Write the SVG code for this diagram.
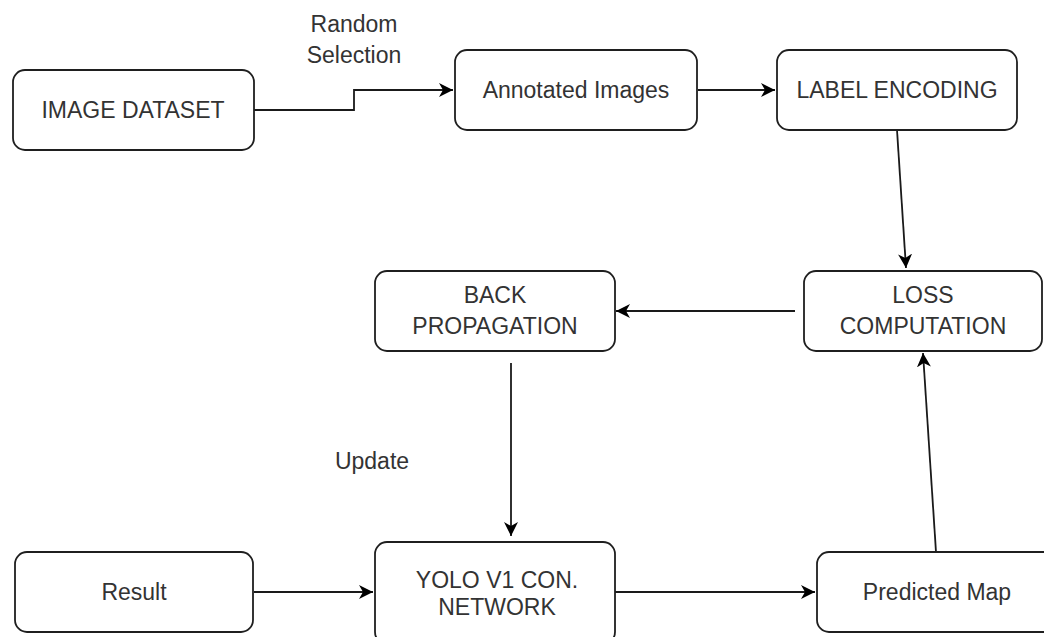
<svg xmlns="http://www.w3.org/2000/svg" width="1044" height="637" viewBox="0 0 1044 637">
  <style>
    .box { fill: #ffffff; stroke: #1f1f1f; stroke-width: 1.8; }
    .lbl { font-family: "Liberation Sans", Arial, sans-serif; font-size: 23px; fill: #333333; text-anchor: middle; }
    .edge { fill: none; stroke: #1a1a1a; stroke-width: 1.8; marker-end: url(#arrow); }
  </style>
  <defs>
    <marker id="arrow" markerUnits="userSpaceOnUse" markerWidth="16" markerHeight="14" refX="14" refY="7" orient="auto">
      <path d="M0,0 L14,7 L0,14 L4,7 Z" fill="#000000"/>
    </marker>
  </defs>
  <rect width="1044" height="637" fill="#ffffff"/>

  <!-- connectors -->
  <g id="connectors">
    <polyline class="edge" points="254,110 354,110 354,90 453,90"/>
    <line class="edge" x1="698" y1="90" x2="775" y2="90"/>
    <line class="edge" x1="897" y1="130" x2="906" y2="268"/>
    <line class="edge" x1="795" y1="311" x2="616" y2="311"/>
    <line class="edge" x1="511" y1="363" x2="511" y2="536"/>
    <line class="edge" x1="254" y1="592" x2="373" y2="592"/>
    <line class="edge" x1="615" y1="592" x2="815" y2="592"/>
    <line class="edge" x1="936" y1="552" x2="923" y2="353"/>
    <text class="lbl" x="354" y="32">Random</text>
    <text class="lbl" x="354" y="63">Selection</text>
    <text class="lbl" x="372" y="469">Update</text>
  </g>

  <g id="image-dataset">
    <rect class="box" x="13" y="70" width="241" height="80" rx="12"/>
    <text class="lbl" x="133" y="118">IMAGE DATASET</text>
  </g>

  <g id="annotated-images">
    <rect class="box" x="455" y="50" width="242" height="80" rx="12"/>
    <text class="lbl" x="576" y="98">Annotated Images</text>
  </g>

  <g id="label-encoding">
    <rect class="box" x="777" y="50" width="240" height="80" rx="12"/>
    <text class="lbl" x="897" y="98">LABEL ENCODING</text>
  </g>

  <g id="loss-computation">
    <rect class="box" x="804" y="271" width="238" height="80" rx="12"/>
    <text class="lbl" x="923" y="303">LOSS</text>
    <text class="lbl" x="923" y="334">COMPUTATION</text>
  </g>

  <g id="back-propagation">
    <rect class="box" x="375" y="271" width="240" height="80" rx="12"/>
    <text class="lbl" x="495" y="303">BACK</text>
    <text class="lbl" x="495" y="334">PROPAGATION</text>
  </g>

  <g id="result">
    <rect class="box" x="15" y="552" width="238" height="80" rx="12"/>
    <text class="lbl" x="134" y="600">Result</text>
  </g>

  <g id="yolo-network">
    <rect class="box" x="375" y="542" width="240" height="102" rx="12"/>
    <text class="lbl" x="497" y="588">YOLO V1 CON.</text>
    <text class="lbl" x="497" y="615">NETWORK</text>
  </g>

  <g id="predicted-map">
    <rect class="box" x="817" y="552" width="240" height="80" rx="12"/>
    <text class="lbl" x="937" y="600">Predicted Map</text>
  </g>
</svg>
